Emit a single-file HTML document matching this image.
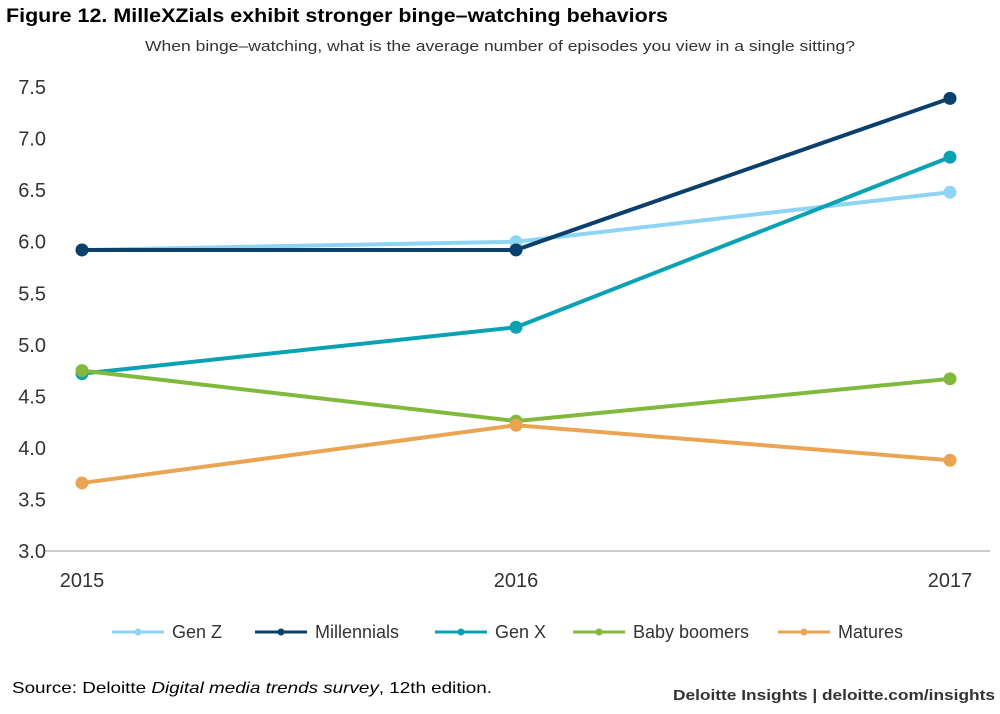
<!DOCTYPE html>
<html><head><meta charset="utf-8"><style>
body{margin:0;background:#fff;font-family:"Liberation Sans",sans-serif;}
</style></head><body>
<svg id="chart" width="1000" height="709" xmlns="http://www.w3.org/2000/svg" font-family="Liberation Sans, sans-serif">
<text x="6" y="22" font-size="19" font-weight="bold" fill="#000" textLength="662" lengthAdjust="spacingAndGlyphs">Figure 12. MilleXZials exhibit stronger binge–watching behaviors</text>
<text x="145" y="51" font-size="15" fill="#333" textLength="710" lengthAdjust="spacingAndGlyphs">When binge–watching, what is the average number of episodes you view in a single sitting?</text>
<g id="axes"></g>
<g id="series"></g>
<g id="legend"></g>
<text x="12" y="693" font-size="16" fill="#000" textLength="480" lengthAdjust="spacingAndGlyphs">Source: Deloitte <tspan font-style="italic">Digital media trends survey</tspan>, 12th edition.</text>
<text x="673" y="700" font-size="15" font-weight="bold" fill="#333" textLength="322" lengthAdjust="spacingAndGlyphs">Deloitte Insights | deloitte.com/insights</text>
</svg>
<script>
const years=["2015","2016","2017"];
const yTicks=[3.0,3.5,4.0,4.5,5.0,5.5,6.0,6.5,7.0,7.5];
const seriesNames=["Gen Z","Millennials","Gen X","Baby boomers","Matures"];
const genZ=[5.92,6.0,6.48];
const millennials=[5.92,5.92,7.39];
const genX=[4.72,5.17,6.82];
const boomers=[4.75,4.26,4.67];
const matures=[3.66,4.22,3.88];
const colors=["#8dd4f5","#0b3f6c","#0aa2b3","#80b93c","#eaa452"];
const allSeries=[genZ,millennials,genX,boomers,matures];
const NS="http://www.w3.org/2000/svg";
const xS=i=>82+i*434;
const yS=v=>551-(v-3)*103.1;
function mk(tag,attrs,parent,txt){const e=document.createElementNS(NS,tag);for(const k in attrs)e.setAttribute(k,attrs[k]);if(txt!==undefined)e.textContent=txt;parent.appendChild(e);return e;}
const axes=document.getElementById('axes');
const base=mk('line',{x1:45,x2:990,y1:yS(3),y2:yS(3),stroke:'#999','stroke-width':1},axes);


yTicks.forEach(t=>{const e=mk('text',{x:46,y:yS(t)+7,'font-size':20,fill:'#333','text-anchor':'end'},axes,t.toFixed(1));

});
years.forEach((y,i)=>{const e=mk('text',{x:xS(i),y:587,'font-size':20,fill:'#333','text-anchor':'middle'},axes,y);

});
const sg=document.getElementById('series');
allSeries.forEach((s,k)=>{
const p=mk('polyline',{points:s.map((v,i)=>xS(i)+','+yS(v)).join(' '),fill:'none',stroke:colors[k],'stroke-width':4},sg);


s.forEach((v,i)=>{const c=mk('circle',{cx:xS(i),cy:yS(v),r:6.5,fill:colors[k]},sg);

});
});
const lg=document.getElementById('legend');
const lx=[112,255,435,573,778];
seriesNames.forEach((n,k)=>{
const g=mk('g',{},lg);


mk('line',{x1:lx[k],x2:lx[k]+52,y1:632,y2:632,stroke:colors[k],'stroke-width':3},g);
mk('circle',{cx:lx[k]+26,cy:632,r:3.5,fill:colors[k]},g);
mk('text',{x:lx[k]+60,y:638,'font-size':18,fill:'#333'},g,n);
});
</script>
</body></html>
